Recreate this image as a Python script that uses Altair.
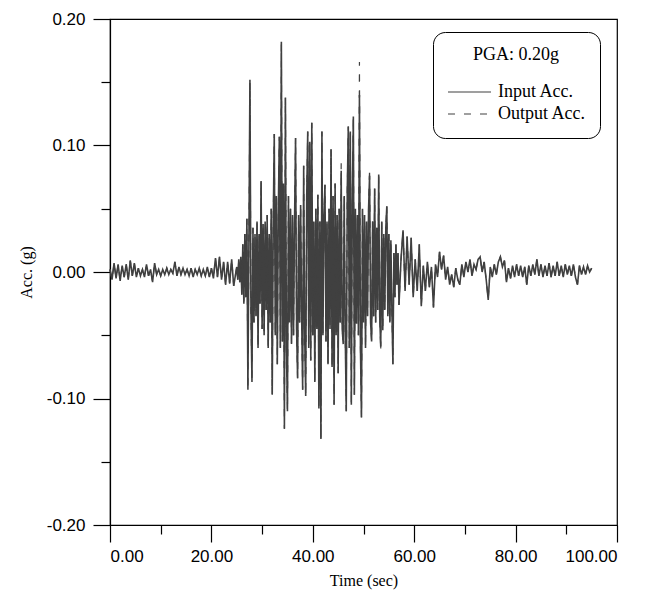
import altair as alt
import pandas as pd

# ---- data ----
# segment 1: 0.0 .. 24.4 s, step 0.4 s
pre_t0, pre_dt = 0.0, 0.4
pre_acc = [
    0.002, -0.006, 0.007, -0.005, 0.006, -0.007, 0.005, -0.004, 0.006, -0.006,
    0.009, -0.003, 0.007, -0.004, 0.003, -0.003, 0.002, -0.004, 0.006, -0.003,
    0.002, -0.008, 0.007, -0.002, 0.002, -0.003, 0.002, -0.002, 0.003, -0.002,
    0.002, -0.001, 0.008, -0.003, 0.004, -0.002, 0.003, -0.002, 0.002, -0.003,
    0.003, -0.004, 0.002, -0.002, 0.003, -0.003, 0.002, -0.003, 0.004, -0.004,
    0.003, -0.005, 0.011, -0.004, 0.012, -0.006, 0.008, -0.010, 0.008, -0.009,
    0.010, -0.011,
]
# segment 2: 25.0 .. 57.0 s, step 0.2 s (strong motion)
sm_t0, sm_dt = 25.0, 0.2
sm_acc = [
    0.004, -0.006, 0.010, -0.008, 0.012,
    -0.018, 0.022, -0.025, 0.030, -0.020,
    0.042, -0.093, 0.025, 0.152, -0.030,
    -0.087, 0.035, -0.040, 0.030, -0.035,
    0.040, -0.060, 0.030, -0.025, 0.072,
    -0.045, 0.038, -0.050, 0.040, -0.030,
    0.045, -0.060, 0.030, -0.040, 0.050,
    -0.097, 0.040, 0.109, -0.050, 0.060,
    -0.073, 0.050, 0.107, -0.060, 0.182,
    -0.055, 0.070, -0.124, 0.138, -0.060,
    -0.110, 0.060, -0.040, 0.050, -0.057,
    0.045, -0.050, 0.040, 0.106, -0.045,
    -0.084, 0.045, -0.040, 0.053, -0.035,
    -0.093, 0.084, -0.050, -0.098, 0.060,
    0.111, -0.060, 0.103, -0.070, 0.118,
    -0.050, 0.040, -0.087, 0.050, -0.045,
    0.061, -0.108, 0.040, -0.132, 0.111,
    -0.050, 0.045, 0.069, -0.055, 0.040,
    -0.073, 0.050, -0.045, 0.097, -0.075,
    0.060, -0.105, 0.070, -0.050, 0.045,
    -0.080, 0.050, -0.040, 0.080, -0.045,
    -0.057, 0.060, -0.050, -0.110, 0.065,
    0.115, -0.060, 0.111, -0.105, 0.060,
    0.123, -0.097, 0.050, -0.041, 0.045,
    -0.050, 0.140, -0.060, -0.115, 0.050,
    -0.040, 0.045, -0.060, 0.040, -0.035,
    0.050, 0.076, -0.040, -0.055, 0.040,
    -0.035, 0.066, -0.040, 0.035, -0.030,
    0.077, -0.035, -0.059, 0.040, -0.046,
    0.030, -0.030, 0.035, 0.052, -0.035,
    0.030, -0.040, 0.025, -0.030, -0.073,
    0.015, -0.020, 0.022, -0.010, 0.015,
    -0.026,
]
# segment 3: 57.4 .. 95.0 s, step 0.4 s
post_t0, post_dt = 57.4, 0.4
post_acc = [
    0.010, 0.033, -0.015, 0.028, -0.010, 0.027, -0.020, 0.010, -0.015, 0.022,
    -0.027, 0.005, -0.015, 0.008, -0.012, 0.004, -0.028, 0.006, -0.004, 0.016,
    0.002, 0.013, -0.006, 0.004, -0.010, -0.002, -0.012, 0.003, -0.006, -0.010,
    0.006, -0.004, 0.008, 0.000, 0.010, -0.003, 0.006, 0.002, 0.010, 0.012,
    0.000, 0.008, -0.006, -0.022, 0.004, -0.004, 0.006, -0.002, 0.008, 0.012,
    0.004, 0.009, -0.008, 0.003, -0.005, 0.005, -0.004, 0.006, -0.003, 0.005,
    -0.004, 0.004, -0.010, 0.005, -0.003, 0.006, -0.002, 0.010, -0.003, 0.006,
    -0.004, 0.005, -0.003, 0.007, -0.004, 0.005, -0.003, 0.008, -0.003, 0.005,
    -0.004, 0.006, -0.002, 0.005, -0.003, 0.006, -0.004, -0.010, 0.005, -0.002,
    0.004, -0.002, 0.005, 0.000, 0.003,
]
# output record: same as input except at these samples (time, value)
output_changes = [(27.6, 0.150), (33.8, 0.180), (45.6, 0.086), (49.2, 0.166),
                  (51.2, 0.082), (53.4, -0.062)]

series_names = ["Input Acc.", "Output Acc."]
legend_title = "PGA: 0.20g"
x_major = [0, 20, 40, 60, 80, 100]
x_minor = [10, 30, 50, 70, 90]
y_major = [-0.2, -0.1, 0.0, 0.1, 0.2]
y_minor = [-0.15, -0.05, 0.05, 0.15]

# ---- build table ----
times, acc = [], []
for t0, dt, vals in [(pre_t0, pre_dt, pre_acc), (sm_t0, sm_dt, sm_acc), (post_t0, post_dt, post_acc)]:
    for i, v in enumerate(vals):
        times.append(round(t0 + i * dt, 2))
        acc.append(v)
out_acc = list(acc)
changes = dict(output_changes)
for i, t in enumerate(times):
    if t in changes:
        out_acc[i] = changes[t]

df = pd.concat([
    pd.DataFrame({"t": times, "a": acc, "series": series_names[0]}),
    pd.DataFrame({"t": times, "a": out_acc, "series": series_names[1]}),
], ignore_index=True)

LINE = "#404040"
legend = alt.Legend(
    title=legend_title, orient="none", legendX=323, legendY=13,
    symbolType="stroke", symbolSize=1850, symbolStrokeWidth=1.2,
    symbolStrokeColor="black", clipHeight=20,
    labelFont="Liberation Serif", labelFontSize=18, labelColor="black",
    titleFont="Liberation Serif", titleFontSize=18, titleFontWeight="normal",
    titleColor="black", titleAnchor="middle", titlePadding=18,
    strokeColor="black", cornerRadius=12, padding=14,
    fillColor="white", rowPadding=2, labelOffset=6,
)
color = alt.Color("series:N", scale=alt.Scale(domain=series_names, range=[LINE, LINE]), legend=legend)
dash = alt.StrokeDash("series:N", scale=alt.Scale(domain=series_names, range=[[1, 0], [7, 9]]), legend=legend)

common_axis = dict(grid=False, domainColor="black", tickColor="black", labelColor="black",
                   domainWidth=1.2, tickWidth=1.2)

x_scale = alt.Scale(domain=[0, 100], nice=False)
y_scale = alt.Scale(domain=[-0.2, 0.2], nice=False)

major = alt.Chart(df).transform_filter(alt.datum.series == series_names[0]).mark_line(strokeWidth=1.6).encode(
    x=alt.X("t:Q", scale=x_scale, axis=alt.Axis(
        values=x_major, format=".2f", tickSize=17, labelPadding=6, orient="bottom",
        labelFont="Liberation Sans", labelFontSize=17, title="Time (sec)",
        titleFont="Liberation Serif", titleFontSize=16, titleFontWeight="normal",
        titleColor="black", titlePadding=8, **common_axis)),
    y=alt.Y("a:Q", scale=y_scale, axis=alt.Axis(
        values=y_major, tickSize=17, labelPadding=8, orient="left",
        labelExpr="replace(format(datum.value, '.2f'), '\u2212', '-')",
        labelFont="Liberation Sans", labelFontSize=17, title="Acc. (g)",
        titleFont="Liberation Serif", titleFontSize=16, titleFontWeight="normal",
        titleColor="black", titlePadding=12, **common_axis)),
    color=color, strokeDash=dash,
)

minor = alt.Chart(df).transform_filter(alt.datum.series == series_names[1]).mark_line(strokeWidth=1.2).encode(
    x=alt.X("t:Q", scale=x_scale, axis=alt.Axis(
        values=x_minor, labels=False, tickSize=9, domain=False, orient="bottom",
        title=None, grid=False, tickColor="black", tickWidth=1.2)),
    y=alt.Y("a:Q", scale=y_scale, axis=alt.Axis(
        values=y_minor, labels=False, tickSize=9, domain=False, orient="left",
        title=None, grid=False, tickColor="black", tickWidth=1.2)),
    color=color, strokeDash=dash,
)

chart = alt.layer(major, minor).resolve_axis(x="independent", y="independent").properties(
    width=507, height=506,
    padding={"left": 10, "top": 2, "right": 5, "bottom": 5},
    background="white",
).configure_view(stroke="black", strokeWidth=1.2)

chart.save("out.html", embed_options={"renderer": "svg", "actions": False})
